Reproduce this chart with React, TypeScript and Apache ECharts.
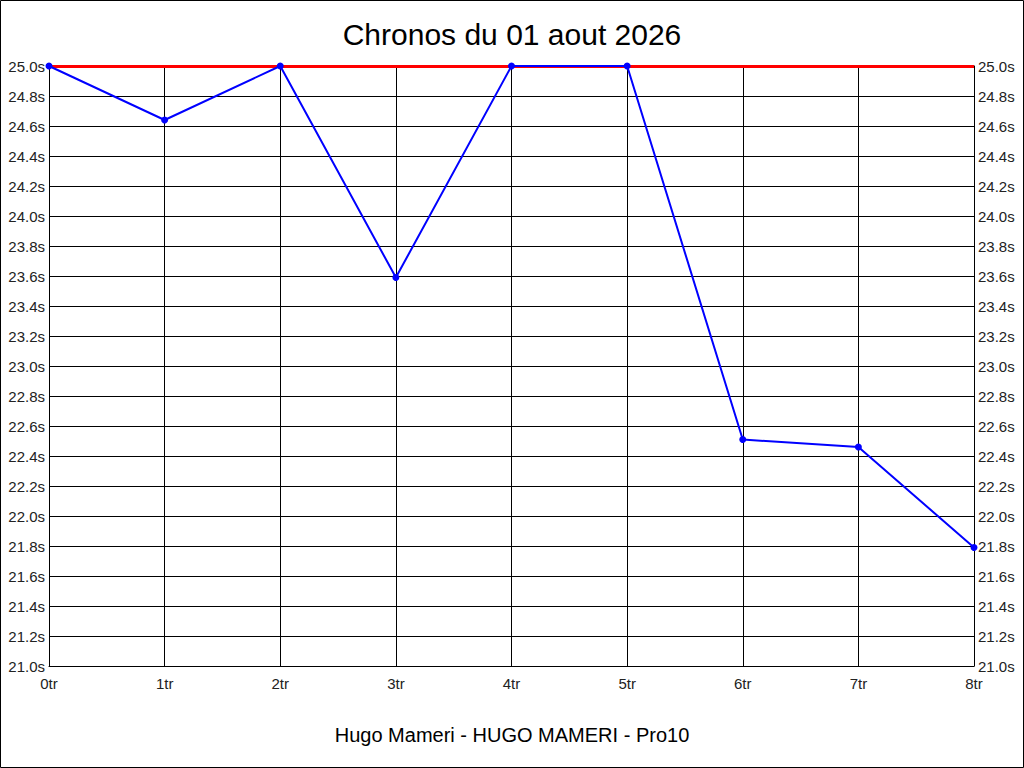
import React, { useEffect, useRef } from "react";
import * as echarts from "echarts";

const titleText = "Chronos du 01 aout 2026";
const subtitleText = "Hugo Mameri - HUGO MAMERI - Pro10";
const categories = ["0tr", "1tr", "2tr", "3tr", "4tr", "5tr", "6tr", "7tr", "8tr"];
const chronoValues = [25.0, 24.64, 25.0, 23.59, 25.0, 25.0, 22.51, 22.46, 21.79];
const limitValue = 25.0;
const yMin = 21.0;
const yMax = 25.0;
const yInterval = 0.2;

export default function App() {
  const ref = useRef<HTMLDivElement>(null);
  useEffect(() => {
    document.body.style.margin = "0";
    if (!ref.current) return;
    const chart = echarts.init(ref.current, null, { renderer: "svg" });
    const font = "'Liberation Sans', Arial, sans-serif";
    const yAxisCommon = {
      type: "value" as const,
      min: yMin,
      max: yMax,
      interval: yInterval,
      axisLine: { show: true, lineStyle: { color: "#000", width: 1 } },
      axisTick: { show: false },
      splitLine: { show: true, lineStyle: { color: "#000", width: 1 } },
      axisLabel: {
        color: "#222",
        fontSize: 15,
        fontFamily: font,
        margin: 4,
        formatter: (v: number) => v.toFixed(1) + "s",
      },
    };
    chart.setOption({
      animation: false,
      backgroundColor: "#fff",
      title: [
        {
          text: titleText,
          left: "center",
          top: 14,
          textStyle: { fontSize: 30, fontWeight: "normal", color: "#000", fontFamily: font },
        },
        {
          text: subtitleText,
          left: "center",
          top: 720,
          textStyle: { fontSize: 20, fontWeight: "normal", color: "#000", fontFamily: font },
        },
      ],
      graphic: [
        {
          type: "rect",
          shape: { x: 0.5, y: 0.5, width: 1023, height: 767 },
          style: { fill: "none", stroke: "#000", lineWidth: 1 },
          silent: true,
        },
      ],
      grid: { left: 49, right: 50, top: 66, bottom: 102, containLabel: false },
      xAxis: {
        type: "category",
        data: categories,
        boundaryGap: false,
        axisLine: { show: true, lineStyle: { color: "#000", width: 1 } },
        axisTick: { show: false },
        splitLine: { show: true, lineStyle: { color: "#000", width: 1 } },
        axisLabel: { color: "#222", fontSize: 15, fontFamily: font, margin: 10 },
      },
      yAxis: [
        { ...yAxisCommon, position: "left" },
        { ...yAxisCommon, position: "right", splitLine: { show: false } },
      ],
      series: [
        {
          type: "line",
          data: chronoValues,
          yAxisIndex: 0,
          color: "#0000ff",
          lineStyle: { color: "#0000ff", width: 2 },
          symbol: "circle",
          symbolSize: 7,
          itemStyle: { color: "#0000ff" },
          z: 3,
          markLine: {
            silent: true,
            symbol: "none",
            label: { show: false },
            lineStyle: { color: "#ff0000", width: 3, type: "solid" },
            data: [{ yAxis: limitValue }],
            z: 2,
          },
        },
      ],
    });
    return () => chart.dispose();
  }, []);
  return <div ref={ref} style={{ width: 1024, height: 768 }} />;
}
